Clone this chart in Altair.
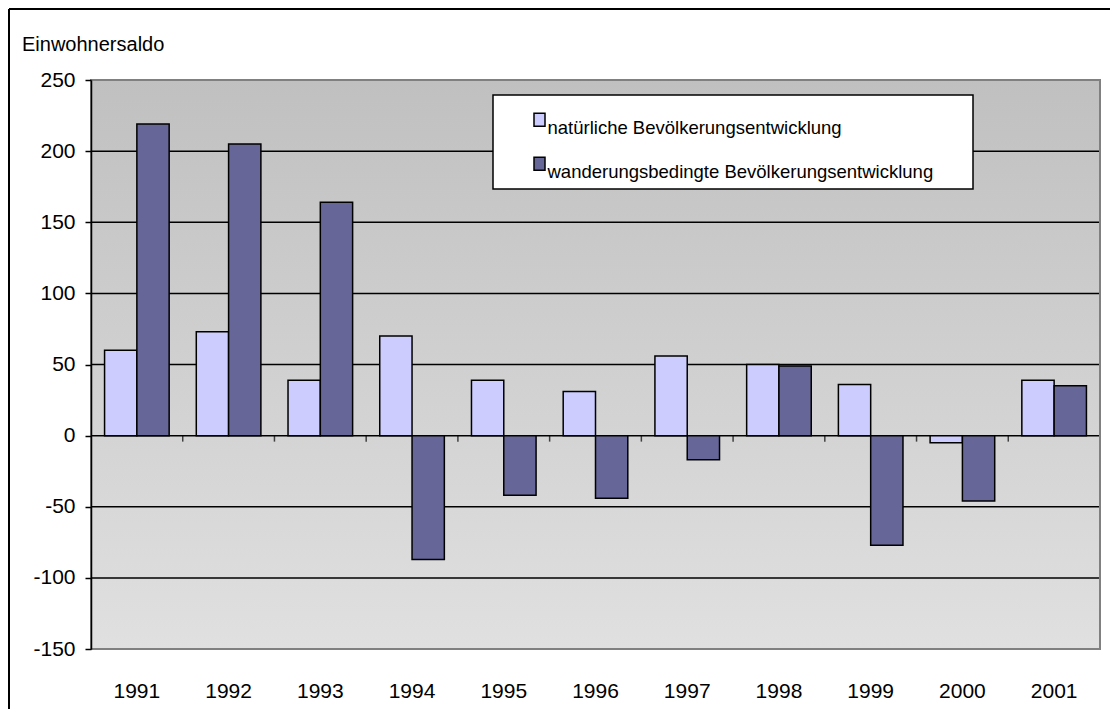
import altair as alt
import pandas as pd

YEARS = ["1991", "1992", "1993", "1994", "1995", "1996", "1997", "1998", "1999", "2000", "2001"]
NATUERLICH = [60, 73, 39, 70, 39, 31, 56, 50, 36, -5, 39]
WANDERUNG = [219, 205, 164, -87, -42, -44, -17, 49, -77, -46, 35]
SERIES = ["natürliche Bevölkerungsentwicklung", "wanderungsbedingte Bevölkerungsentwicklung"]
COLORS = ["#CCCCFF", "#666699"]
Y_TICKS = [-150, -100, -50, 0, 50, 100, 150, 200, 250]
GRID_VALUES = [-100, -50, 0, 50, 100, 150, 200]

W, H = 1009, 569
FONT = "Liberation Sans"

rows = []
for i, y in enumerate(YEARS):
    rows.append({"year": y, "series": SERIES[0], "value": NATUERLICH[i]})
    rows.append({"year": y, "series": SERIES[1], "value": WANDERUNG[i]})
df = pd.DataFrame(rows)
grid_df = pd.DataFrame({"value": GRID_VALUES})
year_df = pd.DataFrame({"year": YEARS})
one = pd.DataFrame({"a": [0]})

xscale = alt.Scale(domain=YEARS, paddingInner=0, paddingOuter=0)
yscale = alt.Scale(domain=[-150, 250], nice=False)

xaxis = alt.Axis(title=None, labelAngle=0, ticks=False, domain=False,
                 labelPadding=31, labelFontSize=21, labelFont=FONT,
                 labelColor="black")
yaxis = alt.Axis(values=Y_TICKS, grid=False, tickSize=6, tickColor="black",
                 tickWidth=1.5, domainColor="black", domainWidth=1.5,
                 labelFontSize=21, labelFont=FONT, labelColor="black",
                 labelExpr="'' + datum.value",
                 labelPadding=10, zindex=1,
                 title="Einwohnersaldo", titleAngle=0, titleAlign="left",
                 titleBaseline="alphabetic", titleX=-69.5, titleY=-30,
                 titleFontSize=20, titleFont=FONT, titleFontWeight="normal",
                 titleColor="black")

bg = alt.Chart(one).mark_rect(
    color=alt.LinearGradient(
        gradient="linear",
        stops=[alt.GradientStop(color="#c0c0c0", offset=0),
               alt.GradientStop(color="#e0e0e0", offset=1)],
        x1=0, x2=0, y1=0, y2=1,
    )
).encode(x=alt.value(0), x2=alt.value(W), y=alt.value(0), y2=alt.value(H))

grid = alt.Chart(grid_df).mark_rule(color="black", strokeWidth=1.5).encode(
    y=alt.Y("value:Q", scale=yscale, axis=yaxis, title="Einwohnersaldo")
)

bars = alt.Chart(df).mark_bar(stroke="black", strokeWidth=1.5).encode(
    x=alt.X("year:N", scale=xscale, sort=YEARS, axis=xaxis, title=None),
    xOffset=alt.XOffset("series:N", sort=SERIES,
                        scale=alt.Scale(domain=SERIES, paddingInner=0, paddingOuter=0.42)),
    y=alt.Y("value:Q", scale=yscale, axis=yaxis, title="Einwohnersaldo"),
    color=alt.Color("series:N", sort=SERIES,
                    scale=alt.Scale(domain=SERIES, range=COLORS),
                    legend=alt.Legend(title=None, orient="none", legendX=434.5, legendY=36.8,
                                      padding=0, symbolType="M-0.25,-1.45H0.85V-0.15H-0.25Z",
                                      symbolSize=400, symbolStrokeColor="black",
                                      symbolStrokeWidth=1.5, labelOffset=0,
                                      labelFontSize=18.5, labelFont=FONT, labelColor="black",
                                      rowPadding=16, labelLimit=600)),
)

xticks = alt.Chart(year_df).mark_tick(orient="vertical", size=6, yOffset=3,
                                      thickness=1.5, color="black").encode(
    x=alt.X("year:N", bandPosition=1, scale=xscale, sort=YEARS, axis=xaxis, title=None),
    y=alt.datum(0, scale=yscale),
)

border = alt.Chart(one).mark_rect(fillOpacity=0, stroke="#808080", strokeWidth=2).encode(
    x=alt.value(0), x2=alt.value(W), y=alt.value(0), y2=alt.value(H)
)

legbox = alt.Chart(one).mark_rect(fill="white", stroke="black", strokeWidth=1.5).encode(
    x=alt.value(402), x2=alt.value(882), y=alt.value(15), y2=alt.value(109)
)

frame_left = alt.Chart(one).mark_rule(color="black", strokeWidth=2).encode(
    x=alt.value(-82), y=alt.value(-71), y2=alt.value(H + 60)
)
frame_top = alt.Chart(one).mark_rule(color="black", strokeWidth=2).encode(
    x=alt.value(-82), x2=alt.value(W + 10), y=alt.value(-71)
)

chart = alt.layer(bg, grid, bars, xticks, border, legbox, frame_left, frame_top).properties(
    width=W, height=H,
    autosize=alt.AutoSizeParams(type="none"),
    padding={"left": 83, "top": 72, "right": 10, "bottom": 60},
    background="white",
).configure_view(strokeWidth=0)

chart.save("out.html", embed_options={"renderer": "svg", "actions": False})
